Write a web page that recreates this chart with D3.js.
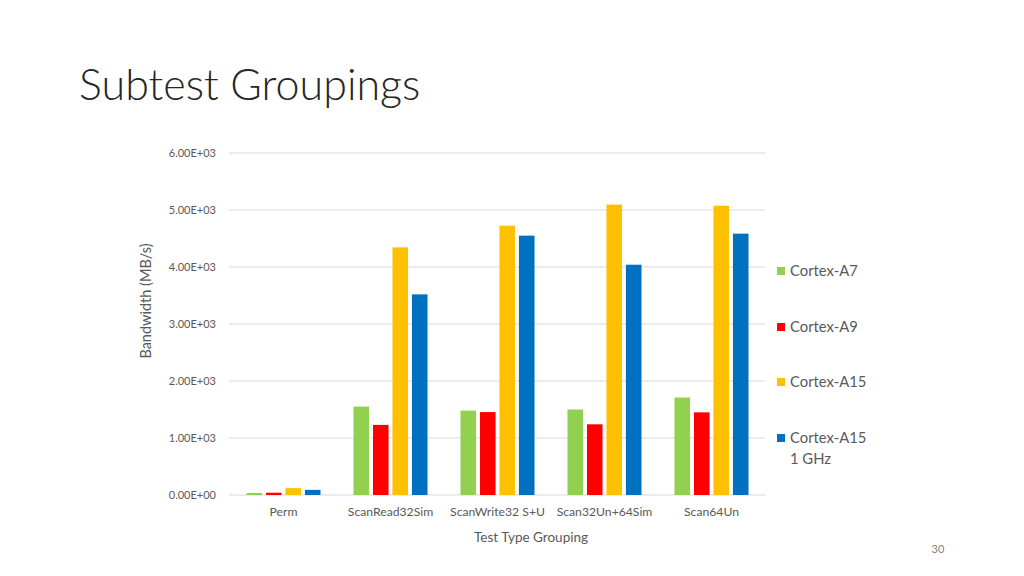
<!DOCTYPE html>
<html><head><meta charset="utf-8">
<script src="https://cdn.jsdelivr.net/npm/d3@7"></script>
<style>body{margin:0;background:#fff}svg{display:block}</style>
</head><body>
<script>
const categories = ["Perm","ScanRead32Sim","ScanWrite32 S+U","Scan32Un+64Sim","Scan64Un"];
const seriesNames = ["Cortex-A7","Cortex-A9","Cortex-A15","Cortex-A15 1 GHz"];
const seriesColors = ["#92d050","#ff0000","#ffc000","#0070c0"];
const cortexA7 = [35,1550,1480,1500,1710];
const cortexA9 = [40,1230,1455,1240,1450];
const cortexA15 = [120,4345,4725,5095,5075];
const cortexA15_1GHz = [90,3520,4550,4040,4585];
const yTicks = [0,1000,2000,3000,4000,5000,6000];
const yTickLabels = ["0.00E+00","1.00E+03","2.00E+03","3.00E+03","4.00E+03","5.00E+03","6.00E+03"];
const seriesValues = [cortexA7,cortexA9,cortexA15,cortexA15_1GHz];

const W=1024,H=576;
const svg=d3.select("body").append("svg").attr("width",W).attr("height",H);
const font="Lato, 'Open Sans', sans-serif";

svg.append("text").attr("x",79).attr("y",100).text("Subtest Groupings")
  .attr("font-family",font).attr("font-weight",300).attr("font-size",43).attr("fill","#262626");

const x=d3.scaleBand().domain(categories).range([230,765]).padding(0);
const xi=d3.scaleBand().domain(seriesNames).range([16.5,90.5]).paddingInner(0.2);
const y=d3.scaleLinear().domain([0,6000]).range([495,153]);

// grid
svg.append("g").selectAll("line").data(yTicks).join("line")
  .attr("x1",229).attr("x2",765).attr("y1",d=>y(d)).attr("y2",d=>y(d))
  .attr("stroke","#d9d9d9").attr("stroke-width",1);

// y labels
svg.append("g").selectAll("text").data(yTicks).join("text")
  .attr("x",216).attr("y",d=>y(d)+4).attr("text-anchor","end")
  .attr("font-family",font).attr("font-size",11).attr("fill","#595959")
  .text((d,i)=>yTickLabels[i]);

// bars
const rows=[];
categories.forEach((c,ci)=>seriesNames.forEach((s,si)=>rows.push({c,s,si,v:seriesValues[si][ci]})));
svg.append("g").selectAll("rect").data(rows).join("rect")
  .attr("x",d=>x(d.c)+xi(d.s)).attr("width",xi.bandwidth())
  .attr("y",d=>y(d.v)).attr("height",d=>y(0)-y(d.v))
  .attr("fill",d=>seriesColors[d.si]);

// x labels
svg.append("g").selectAll("text").data(categories).join("text")
  .attr("x",d=>x(d)+x.bandwidth()/2).attr("y",516).attr("text-anchor","middle")
  .attr("font-family",font).attr("font-size",12.2).attr("fill","#595959").text(d=>d);

svg.append("text").attr("x",531).attr("y",542).attr("text-anchor","middle")
  .attr("font-family",font).attr("font-size",13.5).attr("fill","#595959").text("Test Type Grouping");

svg.append("text").attr("transform","translate(151,301) rotate(-90)").attr("text-anchor","middle")
  .attr("font-family",font).attr("font-size",14.5).attr("fill","#595959").text("Bandwidth (MB/s)");

// legend
const legY=[271,327,382,438];
const leg=svg.append("g").selectAll("g").data(seriesNames).join("g")
  .attr("transform",(d,i)=>`translate(777,${legY[i]})`);
leg.append("rect").attr("x",0).attr("y",-4).attr("width",8).attr("height",8).attr("fill",(d,i)=>seriesColors[i]);
leg.append("text").attr("x",13).attr("y",5).attr("font-family",font).attr("font-size",14.8).attr("fill","#595959")
  .each(function(d){
    const parts=d==="Cortex-A15 1 GHz"?["Cortex-A15","1 GHz"]:[d];
    d3.select(this).selectAll("tspan").data(parts).join("tspan").attr("x",13).attr("dy",(p,j)=>j?21:0).text(p=>p);
  });

svg.append("text").attr("x",938).attr("y",553).attr("text-anchor","middle")
  .attr("font-family",font).attr("font-size",11).attr("fill","#7f7f7f").text("30");
</script>
</body></html>
